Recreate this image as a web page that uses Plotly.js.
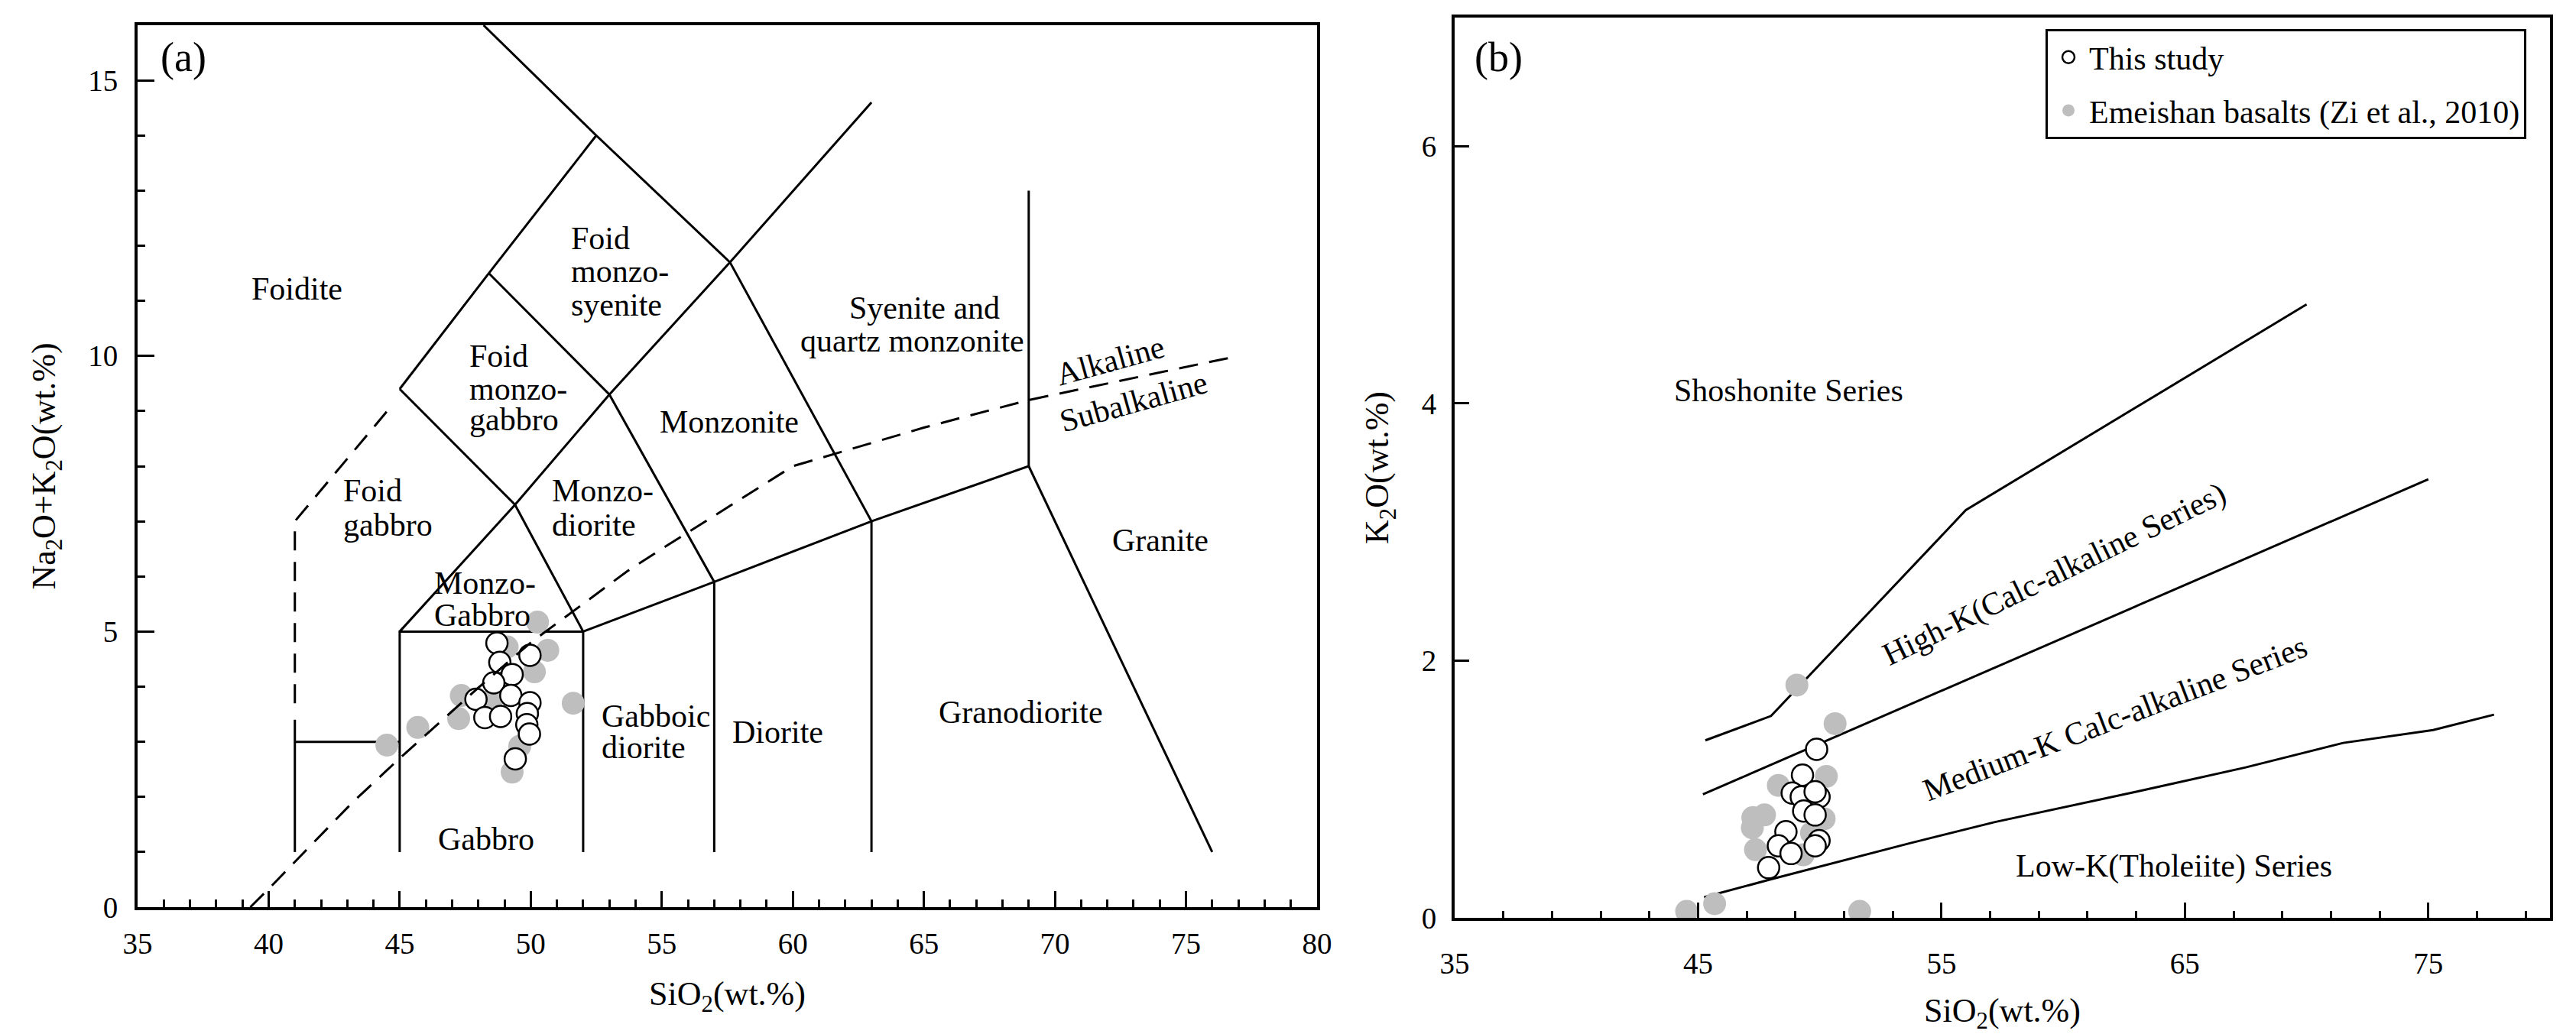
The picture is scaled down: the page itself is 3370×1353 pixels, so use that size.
<!DOCTYPE html>
<html>
<head>
<meta charset="utf-8">
<script src="https://cdn.plot.ly/plotly-3.0.1.min.js"></script>
<style>html,body{margin:0;padding:0;background:#fff;}</style>
</head>
<body>
<div id="chart" style="width:3370px;height:1353px;"></div>
<script>
// ================= Panel (a): TAS diagram (SiO2 vs Na2O+K2O) =================
// Field boundaries
const tasOuterX = [48.2, 52.5, 57.6, 63, 63];
const tasOuterY = [16, 14, 11.7, 7, 1];
const tasFoidUpperX = [45, 48.4, 52.5];
const tasFoidUpperY = [9.4, 11.5, 14];
const tasMonzoGabbroX = [45, 49.4, 52];
const tasMonzoGabbroY = [9.4, 7.3, 5];
const tasMonzoDioriteX = [48.4, 53, 57, 57];
const tasMonzoDioriteY = [11.5, 9.3, 5.9, 1];
const tasDiagonalX = [45, 49.4, 53, 57.6, 63];
const tasDiagonalY = [5, 7.3, 9.3, 11.7, 14.6];
const tasGabbroX = [45, 45, 52, 52];
const tasGabbroY = [1, 5, 5, 1];
const tasSubalkX = [52, 57, 63, 69, 69];
const tasSubalkY = [5, 5.9, 7, 8, 13];
const tasGraniteX = [69, 76];
const tasGraniteY = [8, 1];
const tasFoidGabbroX = [41, 45];
const tasFoidGabbroY = [3, 3];
const tasFoidGabbroVX = [41, 41];
const tasFoidGabbroVY = [3.4, 1];
const tasFoidDashX = [41, 41, 44.7];
const tasFoidDashY = [3.7, 7, 9.1];
// Irvine & Baragar alkaline / subalkaline divide
const alkDivideX = [39.3, 40, 43.2, 45, 48, 50, 53.7, 55, 60, 65, 69, 77];
const alkDivideY = [0, 0.33, 1.9, 2.7, 3.98, 4.8, 6.1, 6.5, 8.0, 8.7, 9.2, 10.0];

// Samples
const thisStudyTasSiO2 = [48.71, 48.82, 49.97, 49.29, 48.59, 49.24, 47.91, 49.97, 48.25, 48.85, 49.87, 49.85, 49.95, 49.41];
const thisStudyTasAlk  = [4.79, 4.44, 4.57, 4.22, 4.07, 3.84, 3.77, 3.71, 3.44, 3.46, 3.51, 3.31, 3.14, 2.69];
const emeishanTasSiO2 = [50.26, 50.65, 50.14, 49.10, 51.62, 47.35, 47.25, 45.69, 44.51, 49.29, 49.58, 48.50];
const emeishanTasAlk  = [5.17, 4.66, 4.27, 4.72, 3.70, 3.84, 3.42, 3.26, 2.94, 2.45, 2.92, 3.75];

// Field names (one entry per text line)
const tasLabelText = ['Foidite', 'Foid', 'monzo-', 'syenite', 'Foid', 'monzo-', 'gabbro', 'Foid', 'gabbro',
  'Monzo-', 'diorite', 'Monzonite', 'Syenite and', 'quartz monzonite', 'Granite', 'Monzo-', 'Gabbro',
  'Gabboic', 'diorite', 'Diorite', 'Granodiorite', 'Gabbro'];
const tasLabelX = [41.07, 51.49, 51.49, 51.49, 47.60, 47.60, 47.60, 42.79, 42.79,
  50.75, 50.75, 57.57, 65.03, 64.55, 74.03, 46.27, 46.27, 52.63, 52.63, 59.42, 68.70, 48.31];
const tasLabelY = [11.22, 12.13, 11.53, 10.93, 10.00, 9.40, 8.84, 7.55, 6.93,
  7.55, 6.93, 8.80, 10.87, 10.27, 6.65, 5.88, 5.30, 3.47, 2.90, 3.18, 3.54, 1.24];
const tasLabelAlign = ['center', 'left', 'left', 'left', 'left', 'left', 'left', 'left', 'left',
  'left', 'left', 'center', 'center', 'center', 'center', 'left', 'left', 'left', 'left', 'center', 'center', 'center'];
const seriesDivideText = ['Alkaline', 'Subalkaline'];
const seriesDivideX = [72.11, 72.99];
const seriesDivideY = [9.92, 9.16];

// ================= Panel (b): SiO2 vs K2O =================
const shoshoniteLineX = [45.3, 48, 56, 70];
const shoshoniteLineY = [1.38, 1.57, 3.17, 4.77];
const highKLineX = [45.2, 75];
const highKLineY = [0.96, 3.41];
const lowKLineX = [45.25, 48, 53.7, 57.2, 63, 67.5, 71.5, 75.2, 77.7];
const lowKLineY = [0.16, 0.30, 0.58, 0.745, 0.98, 1.17, 1.36, 1.46, 1.58];

const thisStudyK2oSiO2 = [49.87, 49.29, 48.87, 49.24, 49.97, 49.81, 49.34, 49.81, 48.61, 48.30, 48.82, 49.97, 49.81, 47.90];
const thisStudyK2O     = [1.31, 1.11, 0.97, 0.94, 0.94, 0.98, 0.83, 0.80, 0.67, 0.56, 0.50, 0.60, 0.56, 0.39];
const emeishanK2oSiO2 = [49.06, 50.63, 48.30, 50.27, 47.73, 47.25, 47.23, 47.36, 50.18, 49.66, 49.32, 44.53, 45.68, 51.64];
const emeishanK2O     = [1.81, 1.51, 1.03, 1.10, 0.80, 0.78, 0.70, 0.53, 0.77, 0.66, 0.49, 0.05, 0.11, 0.05];

const seriesText = ['Shoshonite Series', 'High-K(Calc-alkaline Series)', 'Medium-K Calc-alkaline Series', 'Low-K(Tholeiite) Series'];
const seriesX = [48.72, 59.62, 62.12, 64.56];
const seriesY = [4.10, 2.67, 1.55, 0.40];
const seriesAngle = [0, -26, -21, 0];

// ================= Build figure =================
const FONT = 'Liberation Serif, Times New Roman, serif';
function bound(x, y, xa, ya, dash) {
  return {type: 'scatter', mode: 'lines', x: x, y: y, xaxis: xa, yaxis: ya,
    line: {color: '#000', width: 3, dash: dash || 'solid'},
    showlegend: false, hoverinfo: 'skip'};
}
const whiteMarker = {symbol: 'circle', size: 28, color: '#ffffff', line: {color: '#000', width: 2.5}};
const grayMarker = {symbol: 'circle', size: 30, color: '#bebebe', line: {width: 0}};

const traces = [
  bound(tasOuterX, tasOuterY, 'x', 'y'),
  bound(tasFoidUpperX, tasFoidUpperY, 'x', 'y'),
  bound(tasMonzoGabbroX, tasMonzoGabbroY, 'x', 'y'),
  bound(tasMonzoDioriteX, tasMonzoDioriteY, 'x', 'y'),
  bound(tasDiagonalX, tasDiagonalY, 'x', 'y'),
  bound(tasGabbroX, tasGabbroY, 'x', 'y'),
  bound(tasSubalkX, tasSubalkY, 'x', 'y'),
  bound(tasGraniteX, tasGraniteY, 'x', 'y'),
  bound(tasFoidGabbroX, tasFoidGabbroY, 'x', 'y'),
  bound(tasFoidGabbroVX, tasFoidGabbroVY, 'x', 'y'),
  bound(tasFoidDashX, tasFoidDashY, 'x', 'y', '25px,15px'),
  {type: 'scatter', mode: 'markers', x: emeishanTasSiO2, y: emeishanTasAlk, xaxis: 'x', yaxis: 'y',
    marker: grayMarker, name: 'Emeishan basalts (Zi et al., 2010)', showlegend: false, hoverinfo: 'skip'},
  {type: 'scatter', mode: 'markers', x: thisStudyTasSiO2, y: thisStudyTasAlk, xaxis: 'x', yaxis: 'y',
    marker: whiteMarker, name: 'This study', showlegend: false, hoverinfo: 'skip'},
  bound(alkDivideX, alkDivideY, 'x', 'y', '25px,15px'),

  bound(shoshoniteLineX, shoshoniteLineY, 'x2', 'y2'),
  bound(highKLineX, highKLineY, 'x2', 'y2'),
  bound(lowKLineX, lowKLineY, 'x2', 'y2'),
  {type: 'scatter', mode: 'markers', x: emeishanK2oSiO2, y: emeishanK2O, xaxis: 'x2', yaxis: 'y2',
    marker: grayMarker, name: 'Emeishan basalts (Zi et al., 2010)', legendgroup: 'b', legendrank: 2, hoverinfo: 'skip'},
  {type: 'scatter', mode: 'markers', x: thisStudyK2oSiO2, y: thisStudyK2O, xaxis: 'x2', yaxis: 'y2',
    marker: whiteMarker, name: 'This study', legendgroup: 'a', legendrank: 1, hoverinfo: 'skip'}
];

const annotations = [];
for (let i = 0; i < tasLabelText.length; i++) {
  annotations.push({xref: 'x', yref: 'y', x: tasLabelX[i], y: tasLabelY[i], text: tasLabelText[i],
    showarrow: false, xanchor: tasLabelAlign[i], yanchor: 'middle', font: {size: 42}});
}
for (let i = 0; i < seriesDivideText.length; i++) {
  annotations.push({xref: 'x', yref: 'y', x: seriesDivideX[i], y: seriesDivideY[i], text: seriesDivideText[i],
    showarrow: false, xanchor: 'center', yanchor: 'middle', textangle: -15.5, font: {size: 42}});
}
for (let i = 0; i < seriesText.length; i++) {
  annotations.push({xref: 'x2', yref: 'y2', x: seriesX[i], y: seriesY[i], text: seriesText[i],
    showarrow: false, xanchor: 'center', yanchor: 'middle', textangle: seriesAngle[i], font: {size: 42}});
}
annotations.push({xref: 'paper', yref: 'paper', x: 240 / 3370, y: 1 - 75 / 1353, text: '(a)',
  showarrow: false, xanchor: 'center', yanchor: 'middle', font: {size: 54}});
annotations.push({xref: 'paper', yref: 'paper', x: 1960 / 3370, y: 1 - 75 / 1353, text: '(b)',
  showarrow: false, xanchor: 'center', yanchor: 'middle', font: {size: 54}});

function axis(extra) {
  return Object.assign({
    showline: true, linewidth: 4, linecolor: '#000', mirror: true,
    showgrid: false, zeroline: false, ticks: 'inside', tickwidth: 3, tickcolor: '#000',
    tickfont: {size: 39, color: '#000'}, automargin: false
  }, extra);
}

const layout = {
  width: 3370, height: 1353, autosize: false,
  margin: {l: 0, r: 0, t: 0, b: 0, pad: 0},
  paper_bgcolor: '#fff', plot_bgcolor: '#fff',
  font: {family: FONT, color: '#000', size: 40},
  xaxis: axis({domain: [180 / 3370, 1723 / 3370], anchor: 'y', range: [35, 80], tick0: 35, dtick: 5, ticklen: 21,
    minor: {tick0: 35, dtick: 1, ticks: 'inside', ticklen: 10, tickwidth: 3, tickcolor: '#000'},
    ticklabelstandoff: 10,
    title: {text: 'SiO<sub>2</sub>(wt.%)', font: {size: 44}, standoff: 30}}),
  yaxis: axis({domain: [1 - 1187 / 1353, 1 - 33 / 1353], anchor: 'x', range: [0, 16], tick0: 0, dtick: 5, ticklen: 22,
    minor: {tick0: 0, dtick: 1, ticks: 'inside', ticklen: 10, tickwidth: 3, tickcolor: '#000'},
    ticklabelstandoff: 14,
    title: {text: 'Na<sub>2</sub>O+K<sub>2</sub>O(wt.%)', font: {size: 44}, standoff: 30}}),
  xaxis2: axis({domain: [1903 / 3370, 3336 / 3370], anchor: 'y2', range: [35, 80], tick0: 35, dtick: 10, ticklen: 20,
    minor: {tick0: 35, dtick: 2, ticks: 'inside', ticklen: 9, tickwidth: 3, tickcolor: '#000'},
    ticklabelstandoff: 22,
    title: {text: 'SiO<sub>2</sub>(wt.%)', font: {size: 44}, standoff: 30}}),
  yaxis2: axis({domain: [1 - 1201 / 1353, 1 - 23 / 1353], anchor: 'x2', range: [0, 7], tick0: 0, dtick: 2, ticklen: 19,
    ticklabelstandoff: 12,
    title: {text: 'K<sub>2</sub>O(wt.%)', font: {size: 44}, standoff: 30}}),
  showlegend: true,
  legend: {x: 2676 / 3370, y: 1 - 38 / 1353, xanchor: 'left', yanchor: 'top',
    bgcolor: '#fff', bordercolor: '#000', borderwidth: 3, font: {size: 42},
    traceorder: 'grouped', tracegroupgap: 12, itemwidth: 44},
  annotations: annotations
};

Plotly.newPlot('chart', traces, layout, {displayModeBar: false, staticPlot: true});
</script>
</body>
</html>
